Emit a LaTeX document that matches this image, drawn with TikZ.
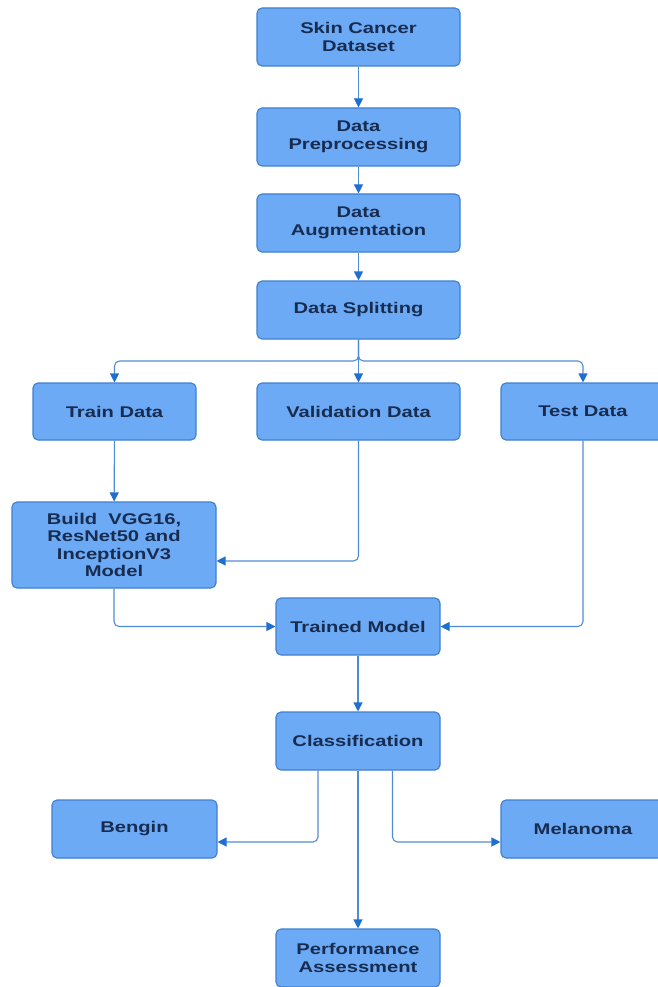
\documentclass[tikz,border=0pt]{standalone}
\usepackage{fontspec}
\setmainfont{Liberation Sans}[FakeStretch=1.3]
\usetikzlibrary{arrows.meta}
\definecolor{boxfill}{RGB}{108,170,245}
\definecolor{boxdraw}{RGB}{63,127,207}
\definecolor{boxtext}{RGB}{24,44,80}
\definecolor{linec}{RGB}{80,140,212}
\definecolor{tipc}{RGB}{31,111,208}
\tikzset{
  blk/.style={draw=boxdraw, fill=boxfill, line width=1.1pt, rounded corners=5pt,
    align=center, inner sep=0pt, text=boxtext,
    font=\fontsize{15.5}{17.5}\selectfont\bfseries},
  conn/.style={draw=linec, line width=1.1pt, rounded corners=5pt,
    -{Triangle[length=9pt,width=9pt,fill=tipc,color=tipc]}}
}
\begin{document}
\begin{tikzpicture}[x=1pt,y=-1pt]
\useasboundingbox (0,0) rectangle (657,987);
\fill[white] (0,0) rectangle (657,987);
\node[blk, minimum width=203pt, minimum height=58pt] (ds) at (358.5,37) {Skin Cancer\\Dataset};
\node[blk, minimum width=203pt, minimum height=58pt] (pre) at (358.5,137) {Data\\Preprocessing};
\node[blk, minimum width=203pt, minimum height=58pt] (aug) at (358.5,223) {Data\\Augmentation};
\node[blk, minimum width=203pt, minimum height=58pt] (split) at (358.5,310) {Data Splitting};
\node[blk, minimum width=163pt, minimum height=57pt] (train) at (114.5,411.5) {Train Data};
\node[blk, minimum width=203pt, minimum height=57pt] (val) at (358.5,411.5) {Validation Data};
\node[blk, minimum width=164pt, minimum height=57pt] (test) at (583,411.5) {Test Data};
\node[blk, minimum width=204pt, minimum height=86pt] (build) at (114,545) {Build\ \ VGG16,\\ResNet50 and\\InceptionV3\\Model};
\node[blk, minimum width=164pt, minimum height=57pt] (trained) at (358,626.5) {Trained Model};
\node[blk, minimum width=164pt, minimum height=58pt] (cls) at (358,741) {Classification};
\node[blk, minimum width=165pt, minimum height=58pt] (bengin) at (134.5,829) {Bengin};
\node[blk, minimum width=164pt, minimum height=58pt] (mel) at (583,829) {Melanoma};
\node[blk, minimum width=164pt, minimum height=58pt] (perf) at (358,958) {Performance\\Assessment};

\coordinate (br) at (358.5,361);
\coordinate (bin) at ([yshift=-16pt]build.east);
\coordinate (c1) at ([xshift=-40pt]cls.south);
\coordinate (c2) at ([xshift=34.5pt]cls.south);
\coordinate (bg) at ([yshift=-13pt]bengin.east);
\coordinate (ml) at ([yshift=-13pt]mel.west);

\draw[conn] (ds) -- (pre);
\draw[conn] (pre) -- (aug);
\draw[conn] (aug) -- (split);
\draw[conn] (split.south) -- (br) -| (train.north);
\draw[conn] (split.south) -- (br) -| (test.north);
\draw[conn] (split.south) -- (val.north);
\draw[conn] (train) -- (build);
\draw[conn] (val.south) |- (bin);
\draw[conn] (build.south) |- (trained.west);
\draw[conn] (test.south) |- (trained.east);
\draw[conn] (trained) -- (cls);
\draw[conn] (c1) |- (bg);
\draw[conn] (c2) |- (ml);
\draw[conn] (cls) -- (perf);
\end{tikzpicture}
\end{document}
